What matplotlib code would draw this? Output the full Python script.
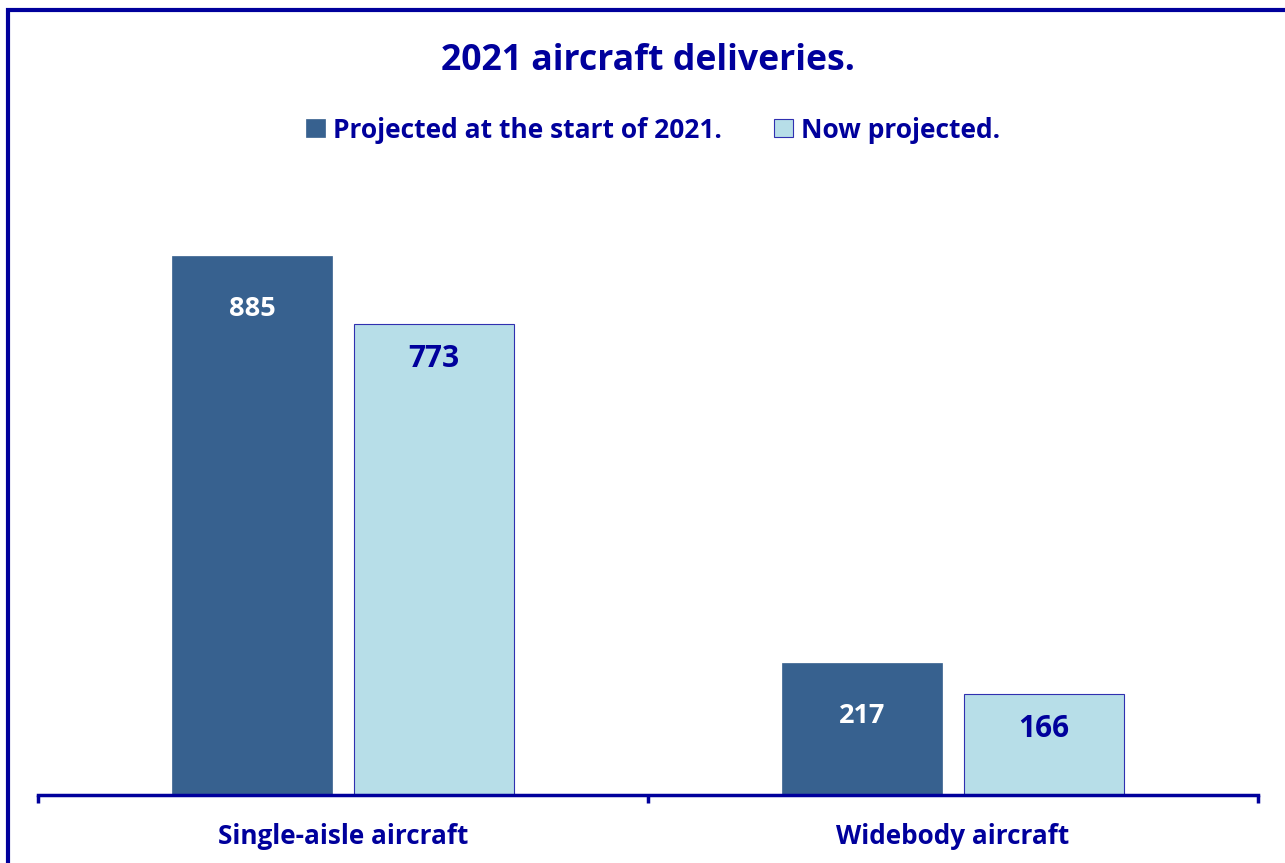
import matplotlib
matplotlib.use("Agg")
import matplotlib.pyplot as plt
from matplotlib.patches import Rectangle
import numpy as np

plt.rcParams['font.family'] = ['Open Sans', 'DejaVu Sans']

categories = ["Single-aisle aircraft", "Widebody aircraft"]
projected_start = [885, 217]
now_projected = [773, 166]
series_names = ["Projected at the start of 2021.", "Now projected."]
title = "2021 aircraft deliveries."

NAVY = "#00009c"
DARK = "#37618f"
LIGHT = "#b7dee8"

fig = plt.figure(figsize=(12.85, 8.63), dpi=100)
W, H = 1285, 863

# axes placed in pixel terms: x 38..1258, baseline at y=795
ax = fig.add_axes([38 / W, (H - 795) / H, 1220 / W, 609 / H])

x = np.arange(len(categories))
bw = 0.262
off = 0.149
b1 = ax.bar(x - off, projected_start, bw, color=DARK, edgecolor=DARK, linewidth=0.5)
b2 = ax.bar(x + off, now_projected, bw, color=LIGHT, edgecolor="#3030b0", linewidth=0.8)

for r, v in zip(b1, projected_start):
    ax.annotate(str(v), (r.get_x() + r.get_width() / 2, v), xytext=(0, -38),
                textcoords="offset points", ha="center", va="center",
                color="white", fontsize=19.5, fontweight="bold")
for r, v in zip(b2, now_projected):
    ax.annotate(str(v), (r.get_x() + r.get_width() / 2, v), xytext=(0, -25),
                textcoords="offset points", ha="center", va="center",
                color=NAVY, fontsize=21.5, fontweight="bold")

ax.set_xlim(-0.5, 1.5)
ax.set_ylim(0, 1000)
ax.set_yticks([])
for s in ["top", "right", "left"]:
    ax.spines[s].set_visible(False)
ax.spines["bottom"].set_color(NAVY)
ax.spines["bottom"].set_linewidth(2.5)

# category tick marks sit between the groups
ax.set_xticks([-0.5, 0.5, 1.5])
ax.set_xticklabels([])
ax.tick_params(axis="x", colors=NAVY, length=6, width=2.5, direction="out")
for xi, c in zip(x, categories):
    ax.text(xi, -0.068, c, transform=ax.get_xaxis_transform(), ha="center", va="center",
            color=NAVY, fontsize=18.8, fontweight="bold")

fig.text(648 / W, 1 - 61 / H, title, ha="center", va="center",
         color=NAVY, fontsize=25.7, fontweight="bold")

leg = fig.legend([b1[0], b2[0]], series_names, loc="center", bbox_to_anchor=(653 / W, 1 - 130 / H),
                 ncol=2, frameon=False, handlelength=0.7, handleheight=0.7, handletextpad=0.3,
                 columnspacing=2.0, prop={"weight": "bold", "size": 19})
for t in leg.get_texts():
    t.set_color(NAVY)

# outer frame (right and bottom edges lie off the image)
fig.patches.append(Rectangle((8 / W, -0.05), 1.2, 1 - 10.5 / H + 0.05, transform=fig.transFigure,
                             fill=False, edgecolor=NAVY, linewidth=3, zorder=10))

fig.savefig("out.png", dpi=100)
